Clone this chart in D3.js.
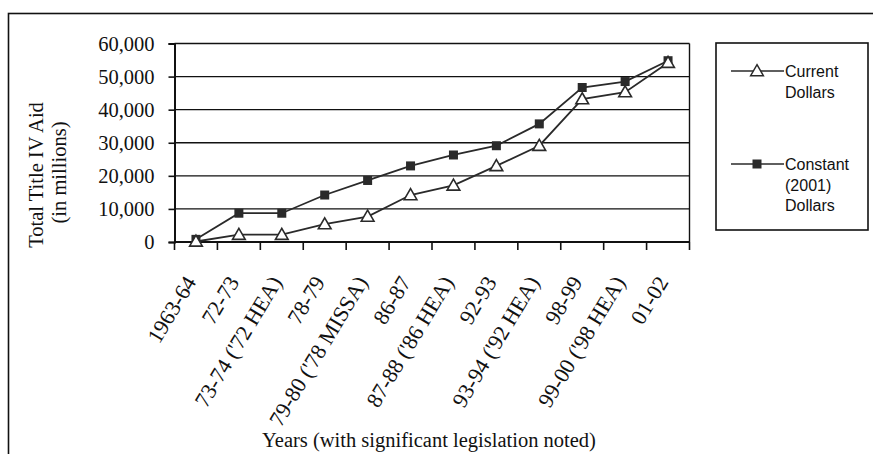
<!DOCTYPE html>
<html>
<head>
<meta charset="utf-8">
<script src="https://cdn.jsdelivr.net/npm/d3@7/dist/d3.min.js"></script>
<style>
  html, body { margin: 0; padding: 0; background: #fff; }
  svg { display: block; }
</style>
</head>
<body>
<svg id="chart" width="873" height="454"></svg>
<script>
// Academic years, with the significant legislation noted in parentheses
const years = [
  "1963-64", "72-73", "73-74 ('72 HEA)", "78-79", "79-80 ('78 MISSA)", "86-87",
  "87-88 ('86 HEA)", "92-93", "93-94 ('92 HEA)", "98-99", "99-00 ('98 HEA)", "01-02"
];
// Total Title IV aid, in millions
const currentDollars  = [150, 2200, 2200, 5400, 7700, 14200, 17100, 23000, 29100, 43200, 45300, 54200];
const constantDollars = [800, 8700, 8700, 14200, 18600, 23000, 26300, 29100, 35700, 46700, 48500, 54800];
const yTicks = [0, 10000, 20000, 30000, 40000, 50000, 60000];

const svg = d3.select("#chart");
const plot = { left: 174.5, right: 689.5, top: 43.5, bottom: 242 };
const ink = "#111";
const serif = "'Liberation Serif', 'Times New Roman', serif";
const sans = "'Liberation Sans', Arial, sans-serif";
const serifSize = 20.5;

// outer frame
svg.append("rect")
  .attr("x", 8.5).attr("y", 13.5).attr("width", 900).attr("height", 500)
  .attr("fill", "none").attr("stroke", ink).attr("stroke-width", 1.6);

const x = d3.scaleBand().domain(years).range([plot.left, plot.right]);
const y = d3.scaleLinear().domain([0, 60000]).range([plot.bottom, plot.top]);

// horizontal gridlines
svg.append("g").selectAll("line").data(yTicks).join("line")
  .attr("x1", plot.left).attr("x2", plot.right)
  .attr("y1", d => y(d)).attr("y2", d => y(d))
  .attr("stroke", ink).attr("stroke-width", 1.4);

// right border of the plot area
svg.append("line")
  .attr("x1", plot.right).attr("x2", plot.right)
  .attr("y1", plot.top).attr("y2", plot.bottom)
  .attr("stroke", ink).attr("stroke-width", 1.4);

// y axis
const yAxis = svg.append("g")
  .attr("transform", `translate(${plot.left},0)`)
  .call(d3.axisLeft(y).tickValues(yTicks).tickSize(6).tickPadding(14)
    .tickFormat(d3.format(",")));
yAxis.select(".domain").attr("stroke", ink).attr("stroke-width", 2);
yAxis.selectAll(".tick line").attr("stroke", ink).attr("stroke-width", 1.6);
yAxis.selectAll(".tick text")
  .attr("font-family", serif).attr("font-size", serifSize).attr("fill", ink);

// x axis: ticks sit on band boundaries, labels at band centres
const xAxis = svg.append("g")
  .attr("transform", `translate(0,${plot.bottom})`);
xAxis.append("line")
  .attr("x1", plot.left).attr("x2", plot.right)
  .attr("stroke", ink).attr("stroke-width", 2);
const boundaries = years.map(d => x(d)).concat([plot.right]);
xAxis.selectAll("line.tick").data(boundaries).join("line")
  .attr("class", "tick")
  .attr("x1", d => d).attr("x2", d => d)
  .attr("y1", 0).attr("y2", 8)
  .attr("stroke", ink).attr("stroke-width", 1.6);
xAxis.selectAll("text").data(years).join("text")
  .attr("transform", d => `translate(${x(d) + x.bandwidth() / 2 + 1},40) rotate(-59)`)
  .attr("text-anchor", "end")
  .attr("font-family", serif).attr("font-size", 22).attr("fill", ink)
  .text(d => d);

// axis titles
svg.append("text")
  .attr("transform", "translate(43,175) rotate(-90)")
  .attr("text-anchor", "middle")
  .attr("font-family", serif).attr("font-size", serifSize).attr("fill", ink)
  .text("Total Title IV Aid");
svg.append("text")
  .attr("transform", "translate(66,172.5) rotate(-90)")
  .attr("text-anchor", "middle")
  .attr("font-family", serif).attr("font-size", serifSize).attr("fill", ink)
  .text("(in millions)");
svg.append("text")
  .attr("x", 429).attr("y", 447)
  .attr("text-anchor", "middle")
  .attr("font-family", serif).attr("font-size", serifSize).attr("fill", ink)
  .text("Years (with significant legislation noted)");

// series
const cx = d => x(d) + x.bandwidth() / 2;
const lineColor = "#2a2a2a";
const line = d3.line().x((v, i) => cx(years[i])).y(v => y(v));
const tri = d3.symbol().type(d3.symbolTriangle).size(70);

svg.append("path").datum(constantDollars)
  .attr("d", line).attr("fill", "none")
  .attr("stroke", lineColor).attr("stroke-width", 1.8);
svg.append("path").datum(currentDollars)
  .attr("d", line).attr("fill", "none")
  .attr("stroke", lineColor).attr("stroke-width", 1.8);

svg.append("g").selectAll("rect").data(constantDollars).join("rect")
  .attr("x", (v, i) => cx(years[i]) - 4.5).attr("y", v => y(v) - 4.5)
  .attr("width", 9).attr("height", 9)
  .attr("fill", lineColor);
svg.append("g").selectAll("path").data(currentDollars).join("path")
  .attr("transform", (v, i) => `translate(${cx(years[i])},${y(v) + 1})`)
  .attr("d", tri)
  .attr("fill", "#fff").attr("stroke", lineColor).attr("stroke-width", 1.6);

// legend
const legend = svg.append("g");
legend.append("rect")
  .attr("x", 716).attr("y", 43).attr("width", 152).attr("height", 187)
  .attr("fill", "#fff").attr("stroke", ink).attr("stroke-width", 1.6);
const entries = [
  { lines: ["Current", "Dollars"], y: 71, marker: "tri" },
  { lines: ["Constant", "(2001)", "Dollars"], y: 164, marker: "sq" }
];
entries.forEach(e => {
  legend.append("line")
    .attr("x1", 731).attr("x2", 784).attr("y1", e.y).attr("y2", e.y)
    .attr("stroke", lineColor).attr("stroke-width", 1.6);
  if (e.marker === "tri") {
    legend.append("path")
      .attr("transform", `translate(757,${e.y + 1})`)
      .attr("d", tri)
      .attr("fill", "#fff").attr("stroke", lineColor).attr("stroke-width", 1.5);
  } else {
    legend.append("rect")
      .attr("x", 752.5).attr("y", e.y - 4.5).attr("width", 9).attr("height", 9)
      .attr("fill", lineColor);
  }
  legend.append("text")
    .attr("x", 785).attr("y", e.y + 6)
    .attr("font-family", sans).attr("font-size", 16).attr("fill", ink)
    .selectAll("tspan").data(e.lines).join("tspan")
    .attr("x", 785).attr("dy", (d, i) => i === 0 ? 0 : 20.5)
    .text(d => d);
});
</script>
</body>
</html>
